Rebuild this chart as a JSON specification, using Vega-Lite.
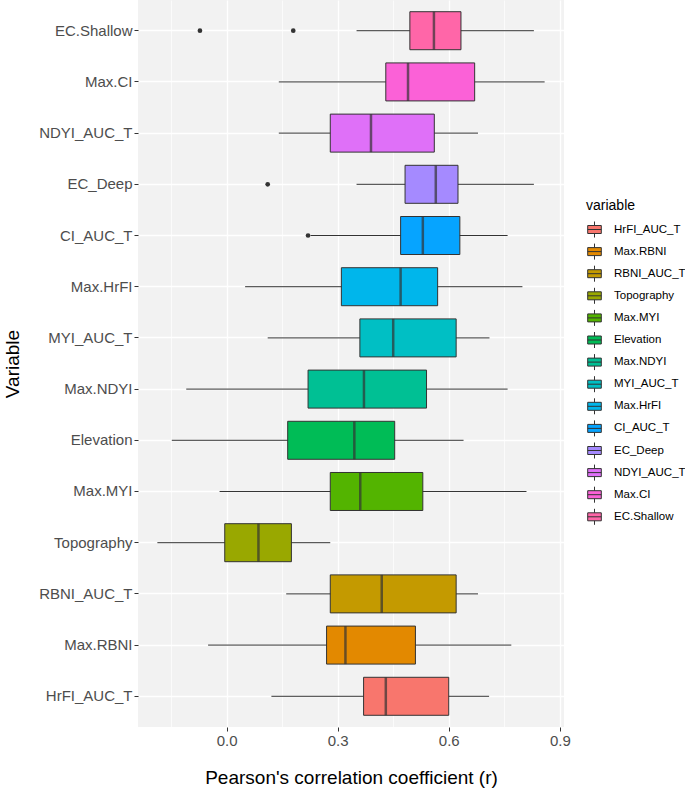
{
  "$schema": "https://vega.github.io/schema/vega-lite/v6.json",
  "autosize": {"type": "none"},
  "padding": {"left": 138, "top": 0, "right": 121, "bottom": 64},
  "width": 426,
  "height": 727,
  "config": {
    "font": "Liberation Sans",
    "view": {"stroke": null, "fill": "#F2F2F2"}
  },
  "datasets": {
    "boxes": [
      {"variable": "EC.Shallow", "lower": 0.351, "q1": 0.495, "median": 0.560, "q3": 0.633, "upper": 0.830},
      {"variable": "Max.CI", "lower": 0.141, "q1": 0.430, "median": 0.490, "q3": 0.670, "upper": 0.859},
      {"variable": "NDYI_AUC_T", "lower": 0.141, "q1": 0.280, "median": 0.390, "q3": 0.561, "upper": 0.679},
      {"variable": "EC_Deep", "lower": 0.351, "q1": 0.482, "median": 0.565, "q3": 0.625, "upper": 0.830},
      {"variable": "CI_AUC_T", "lower": 0.227, "q1": 0.470, "median": 0.530, "q3": 0.630, "upper": 0.759},
      {"variable": "Max.HrFI", "lower": 0.050, "q1": 0.310, "median": 0.470, "q3": 0.570, "upper": 0.799},
      {"variable": "MYI_AUC_T", "lower": 0.111, "q1": 0.360, "median": 0.450, "q3": 0.620, "upper": 0.710},
      {"variable": "Max.NDYI", "lower": -0.109, "q1": 0.220, "median": 0.371, "q3": 0.540, "upper": 0.759},
      {"variable": "Elevation", "lower": -0.148, "q1": 0.165, "median": 0.345, "q3": 0.454, "upper": 0.640},
      {"variable": "Max.MYI", "lower": -0.019, "q1": 0.280, "median": 0.361, "q3": 0.530, "upper": 0.810},
      {"variable": "Topography", "lower": -0.187, "q1": -0.005, "median": 0.086, "q3": 0.175, "upper": 0.280},
      {"variable": "RBNI_AUC_T", "lower": 0.161, "q1": 0.280, "median": 0.419, "q3": 0.620, "upper": 0.679},
      {"variable": "Max.RBNI", "lower": -0.050, "q1": 0.270, "median": 0.321, "q3": 0.510, "upper": 0.769},
      {"variable": "HrFI_AUC_T", "lower": 0.121, "q1": 0.370, "median": 0.430, "q3": 0.600, "upper": 0.709}
    ],
    "outliers": [
      {"variable": "EC.Shallow", "value": -0.072},
      {"variable": "EC.Shallow", "value": 0.180},
      {"variable": "EC_Deep", "value": 0.111},
      {"variable": "CI_AUC_T", "value": 0.220}
    ]
  },
  "resolve": {"axis": {"x": "independent"}},
  "layer": [
    {
      "data": {"name": "boxes"},
      "mark": {"type": "rule", "color": "#333333", "strokeWidth": 1},
      "encoding": {
        "x": {
          "field": "lower", "type": "quantitative",
          "scale": {"domain": [-0.2393, 0.9113], "nice": false, "zero": false},
          "axis": {"orient": "top", "values": [-0.15, 0.15, 0.45, 0.75], "grid": true, "gridColor": "#FFFFFF", "gridWidth": 0.7, "labels": false, "ticks": false, "domain": false, "title": null}
        },
        "x2": {"field": "upper"},
        "y": {
          "field": "variable", "type": "nominal",
          "scale": {"domain": ["EC.Shallow", "Max.CI", "NDYI_AUC_T", "EC_Deep", "CI_AUC_T", "Max.HrFI", "MYI_AUC_T", "Max.NDYI", "Elevation", "Max.MYI", "Topography", "RBNI_AUC_T", "Max.RBNI", "HrFI_AUC_T"], "paddingInner": 0, "paddingOuter": 0.1},
          "axis": {
            "title": "Variable", "titleFontSize": 19, "titleFontWeight": "normal", "titleColor": "#000000", "titlePadding": 16,
            "labelFontSize": 15, "labelColor": "#4D4D4D", "labelPadding": 2,
            "tickSize": 4, "tickColor": "#333333", "domain": false,
            "grid": true, "gridColor": "#FFFFFF", "gridWidth": 1.4, "bandPosition": 0.5
          }
        }
      }
    },
    {
      "data": {"name": "boxes"},
      "mark": {"type": "bar", "size": 38, "stroke": "#333333", "strokeWidth": 1},
      "encoding": {
        "x": {
          "field": "q1", "type": "quantitative",
          "axis": {
            "orient": "bottom", "values": [0, 0.3, 0.6, 0.9], "format": ".1f",
            "title": "Pearson's correlation coefficient (r)", "titleFontSize": 19, "titleFontWeight": "normal", "titleColor": "#000000", "titlePadding": 20,
            "labelFontSize": 15, "labelColor": "#4D4D4D", "labelPadding": 2,
            "tickSize": 4, "tickColor": "#333333", "domain": false,
            "grid": true, "gridColor": "#FFFFFF", "gridWidth": 1.4
          }
        },
        "x2": {"field": "q3"},
        "y": {"field": "variable", "type": "nominal"},
        "color": {
          "field": "variable", "type": "nominal",
          "scale": {
            "domain": ["HrFI_AUC_T", "Max.RBNI", "RBNI_AUC_T", "Topography", "Max.MYI", "Elevation", "Max.NDYI", "MYI_AUC_T", "Max.HrFI", "CI_AUC_T", "EC_Deep", "NDYI_AUC_T", "Max.CI", "EC.Shallow"],
            "range": ["#F8766D", "#E38900", "#C49A00", "#99A800", "#53B400", "#00BC56", "#00C094", "#00BFC4", "#00B6EB", "#06A4FF", "#A58AFF", "#DF70F8", "#FB61D7", "#FF66A8"]
          },
          "legend": {
            "title": "variable", "titleFontSize": 14, "titleFontWeight": "normal", "titleColor": "#000000", "titlePadding": 8,
            "labelFontSize": 11.5, "labelColor": "#000000", "labelOffset": 11, "labelLimit": 200,
            "orient": "none", "legendX": 448, "legendY": 199,
            "symbolType": "M-0.85,-0.5H0.85V0.5H-0.85Z M-0.85,0H0.85 M0,-0.5V-1 M0,0.5V1",
            "symbolSize": 256, "symbolStrokeColor": "#333333", "symbolStrokeWidth": 1, "symbolOpacity": 1,
            "rowPadding": 1.1
          }
        }
      }
    },
    {
      "data": {"name": "boxes"},
      "mark": {"type": "tick", "size": 38, "thickness": 2.5, "color": "#333333"},
      "encoding": {
        "x": {"field": "median", "type": "quantitative", "axis": null},
        "y": {"field": "variable", "type": "nominal"}
      }
    },
    {
      "data": {"name": "outliers"},
      "mark": {"type": "point", "filled": true, "size": 22, "color": "#333333", "opacity": 1},
      "encoding": {
        "x": {"field": "value", "type": "quantitative", "axis": null},
        "y": {"field": "variable", "type": "nominal"}
      }
    }
  ]
}
